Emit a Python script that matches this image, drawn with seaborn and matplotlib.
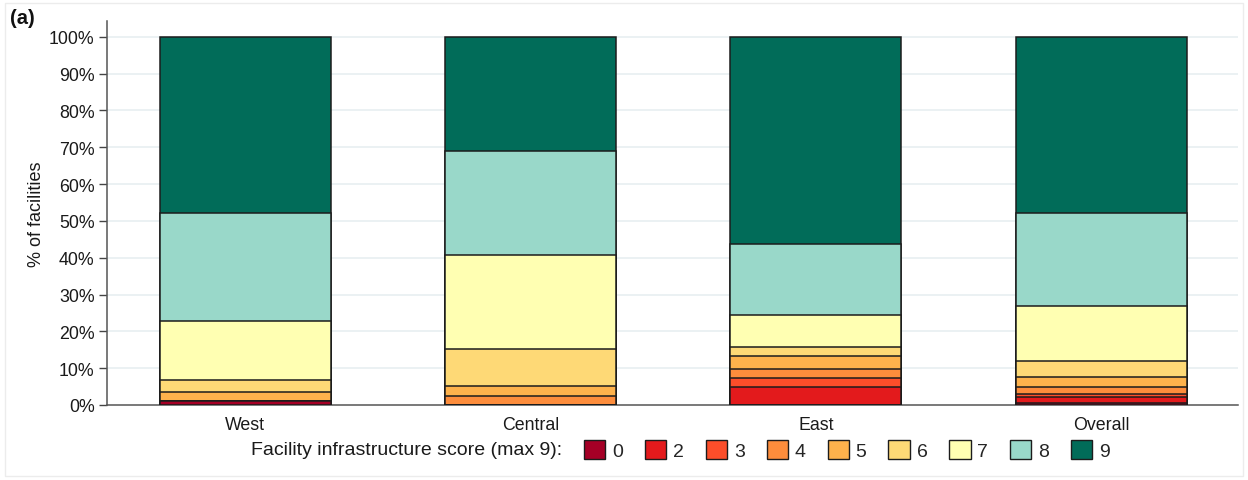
import matplotlib
matplotlib.use("Agg")
import matplotlib.pyplot as plt
from matplotlib.patches import Patch, Rectangle
import numpy as np
import pandas as pd
import seaborn as sns

# Share of facilities (%) by infrastructure score, per region
regions = ["West", "Central", "East", "Overall"]
scores = ["0", "2", "3", "4", "5", "6", "7", "8", "9"]
score_0 = [1.0, 0.0, 0.0, 0.6]
score_2 = [0.0, 0.0, 4.8, 1.6]
score_3 = [0.0, 0.0, 2.5, 0.8]
score_4 = [0.0, 2.4, 2.5, 1.9]
score_5 = [2.4, 2.7, 3.6, 2.7]
score_6 = [3.4, 10.1, 2.3, 4.3]
score_7 = [15.9, 25.6, 8.8, 14.9]
score_8 = [29.5, 28.2, 19.3, 25.4]
score_9 = [47.8, 31.0, 56.2, 47.8]
yticks = [0, 10, 20, 30, 40, 50, 60, 70, 80, 90, 100]

series = [score_0, score_2, score_3, score_4, score_5, score_6, score_7, score_8, score_9]
colors = ["#a50026", "#e31a1c", "#fc4e2a", "#fd8d3c", "#feb24c",
          "#fed976", "#ffffb2", "#99d8c9", "#016c59"]

sns.set_theme(style="white")
plt.rcParams["font.family"] = ["Liberation Sans", "DejaVu Sans"]

df = pd.DataFrame(np.array(series).T, columns=scores)
df.insert(0, "region", regions)
cum = df[scores].cumsum(axis=1)
cum.insert(0, "region", regions)

fig = plt.figure(figsize=(12.48, 4.81), dpi=100)
ax = fig.add_axes([107 / 1248, 75 / 481, (1238 - 107) / 1248, (406 - 22) / 481])

edge = "#1c1c1c"
# Stack by overdrawing cumulative totals, highest score first
for s, c in zip(reversed(scores), reversed(colors)):
    sns.barplot(data=cum, x="region", y=s, order=regions, color=c,
                width=0.6, edgecolor=edge, linewidth=1.1, saturation=1,
                ax=ax, zorder=3)

ax.set_xlim(-0.485, 3.48)
ax.set_ylim(0, 104.3)
ax.set_yticks(yticks)
ax.set_yticklabels([f"{t}%" for t in yticks], fontsize=12.8, color="#1a1a1a")
ax.tick_params(axis="y", which="both", left=True, length=6, width=1,
               color="#444444", pad=3)
ax.tick_params(axis="x", bottom=False, labelsize=12.8, labelcolor="#1a1a1a", pad=2)
ax.set_xlabel("")
ax.set_ylabel("% of facilities", fontsize=13, color="#1a1a1a", labelpad=3)

for t in yticks[1:]:
    ax.axhline(t, color="#e6eef0", linewidth=1.1, zorder=1)

for side in ["top", "right"]:
    ax.spines[side].set_visible(False)
for side in ["left", "bottom"]:
    ax.spines[side].set_color("#555555")
    ax.spines[side].set_linewidth(1.1)

fig.text(10 / 1248, 1 - 18 / 481, "(a)", fontsize=14.5, fontweight="bold",
         va="center", ha="left", color="#111111")

fig.text(562 / 1248, 1 - 451 / 481, "Facility infrastructure score (max 9):",
         fontsize=14, va="center", ha="right", color="#1a1a1a")

handles = [Patch(facecolor=c, edgecolor=edge, linewidth=1.0) for c in colors]
fig.legend(handles, scores, ncol=9, loc="center left",
           bbox_to_anchor=(584 / 1248, 1 - 451 / 481), frameon=False,
           fontsize=14, handlelength=1.1, handleheight=1.1,
           handletextpad=0.35, columnspacing=1.12, borderaxespad=0,
           borderpad=0)

# light frame around the whole graph
fig.add_artist(Rectangle((5 / 1248, 4 / 481), 1 - 10 / 1248, 1 - 8 / 481,
                         transform=fig.transFigure, fill=False,
                         edgecolor="#ececec", linewidth=1.0))

fig.savefig("out.png", dpi=100)
